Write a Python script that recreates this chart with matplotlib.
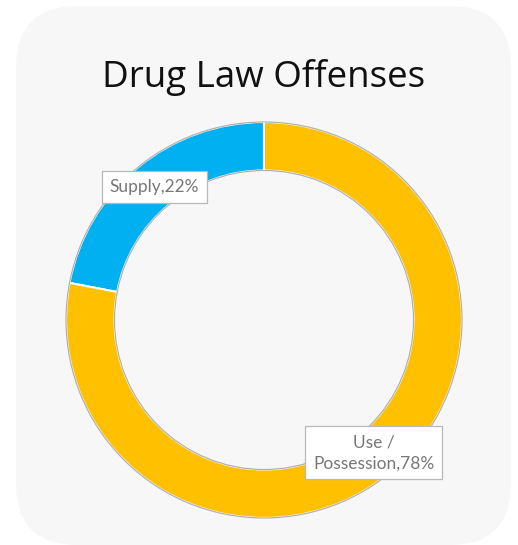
import matplotlib
matplotlib.use("Agg")
import matplotlib.pyplot as plt
from matplotlib.patches import FancyBboxPatch, Circle
import numpy as np

title = "Drug Law Offenses"
categories = ["Supply", "Use /\nPossession"]
values = [22, 78]
colors = ["#00B0F0", "#FFC000"]

W, H = 518, 545
fig = plt.figure(figsize=(W / 100, H / 100), dpi=100)
fig.patch.set_facecolor("white")

# background card
bg = fig.add_axes([0, 0, 1, 1])
bg.set_xlim(0, W)
bg.set_ylim(H, 0)
bg.axis("off")
rad = 62
card = FancyBboxPatch((16 + rad, 6 + rad), 495 - 2 * rad, 539 - 2 * rad,
                      boxstyle=f"round,pad={rad}", facecolor="#f7f7f7",
                      edgecolor="none")
bg.add_patch(card)
bg.text(264, 78, title, ha="center", va="center", fontsize=26.5,
        family="Open Sans", color="#111111")

# donut
cx, cy, R = 264, 320, 198
half = 202
ax = fig.add_axes([(cx - half) / W, (H - cy - half) / H, 2 * half / W, 2 * half / H])
width = 0.245
wedges, _ = ax.pie(values, colors=colors, startangle=90, counterclock=True,
                   radius=1.0, wedgeprops=dict(width=width, edgecolor="white", linewidth=1.5))
ax.add_patch(Circle((0, 0), 1.0, fill=False, edgecolor="#b0b0b0", linewidth=0.9))
ax.add_patch(Circle((0, 0), 1.0 - width, fill=False, edgecolor="#b0b0b0", linewidth=0.9))
ax.set_xlim(-half / R, half / R)
ax.set_ylim(-half / R, half / R)
ax.axis("off")

total = sum(values)
for w, cat, v in zip(wedges, categories, values):
    ang = np.deg2rad((w.theta1 + w.theta2) / 2)
    r = 0.87
    ax.text(r * np.cos(ang), r * np.sin(ang), f"{cat},{round(100 * v / total)}%",
            ha="center", va="center", fontsize=12.5, family="Lato",
            color="#777777", linespacing=1.4,
            bbox=dict(boxstyle="square,pad=0.45", facecolor="white",
                      edgecolor="#b8b8b8", linewidth=0.9))

fig.savefig("out.png", dpi=100, facecolor="white")
